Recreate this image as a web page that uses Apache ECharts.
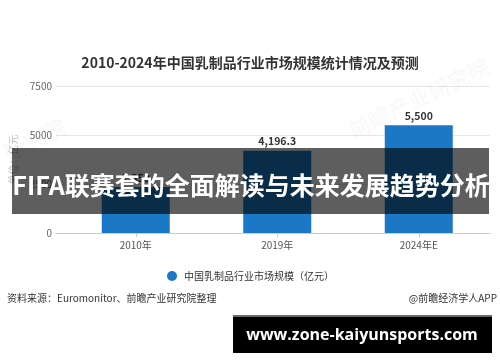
<!DOCTYPE html>
<html>
<head>
<meta charset="utf-8">
<style>
  html, body { margin: 0; padding: 0; background: #ffffff; }
  #chart { width: 500px; height: 362px; }
</style>
<script src="https://cdn.jsdelivr.net/npm/echarts@6/dist/echarts.min.js"></script>
</head>
<body>
<div id="chart"></div>
<script>
// Market size of China's dairy industry (100 million yuan)
const categories = ['2010年', '2019年', '2024年E'];
const marketSize = [2350, 4196.3, 5500];
const yTicks = [0, 2500, 5000, 7500];

const seriesName = '中国乳制品行业市场规模（亿元）';
const titleText = '2010-2024年中国乳制品行业市场规模统计情况及预测';
const bannerText = 'FIFA联赛套的全面解读与未来发展趋势分析';
const sourceText = '资料来源：Euromonitor、前瞻产业研究院整理';
const creditText = '@前瞻经济学人APP';
const siteText = 'www.zone-kaiyunsports.com';

const FONT = '"Noto Sans CJK SC", "Noto Sans", sans-serif';
const BAR_BLUE = '#1a78c6';

const fmt = v => v.toLocaleString('en-US', { maximumFractionDigits: 1 });

const chart = echarts.init(document.getElementById('chart'), null, { renderer: 'canvas' });

const yMin = yTicks[0];
const yMax = yTicks[yTicks.length - 1];
const yStep = yTicks[1] - yTicks[0];

chart.setOption({
  backgroundColor: '#ffffff',
  animation: false,
  textStyle: { fontFamily: FONT },
  title: {
    text: titleText,
    left: 'center',
    top: 51,
    textStyle: { fontFamily: FONT, fontSize: 14, fontWeight: 'bold', color: '#333333' }
  },
  legend: {
    data: [seriesName],
    left: 162,
    top: 266,
    icon: 'circle',
    itemWidth: 10,
    itemHeight: 10,
    itemGap: 6,
    textStyle: { fontFamily: FONT, fontSize: 10, color: '#333333', padding: [0, 0, 0, 2] }
  },
  grid: [
    // frame grid: value scale, gridlines and base line
    { left: 55, right: 10, top: 86, bottom: 129, containLabel: false },
    // bar grid: category band
    { left: 65, right: 10.5, top: 86, bottom: 129, containLabel: false }
  ],
  xAxis: [
    {
      gridIndex: 0,
      type: 'category',
      data: categories,
      axisLine: { show: true, lineStyle: { color: '#cccccc', width: 1 } },
      axisTick: { show: false },
      axisLabel: { show: false },
      splitLine: { show: false }
    },
    {
      gridIndex: 1,
      type: 'category',
      data: categories,
      axisLine: { show: false },
      axisTick: { show: true, alignWithLabel: true, length: 4, lineStyle: { color: '#cccccc' } },
      axisLabel: { show: true, color: '#555555', fontSize: 10, fontFamily: FONT, margin: 7 },
      splitLine: { show: false }
    }
  ],
  yAxis: [
    {
      gridIndex: 0,
      type: 'value',
      min: yMin,
      max: yMax,
      interval: yStep,
      name: '单位：亿元',
      nameLocation: 'middle',
      nameGap: 38,
      nameRotate: 90,
      nameTextStyle: { color: '#c0c0c0', fontSize: 10, fontFamily: FONT },
      axisLine: { show: false },
      axisTick: { show: false },
      axisLabel: { color: '#666666', fontSize: 10, fontFamily: FONT, margin: 4, formatter: v => String(v) },
      splitLine: { show: true, lineStyle: { color: '#e6e6e6', width: 1 } }
    },
    {
      gridIndex: 1,
      type: 'value',
      min: yMin,
      max: yMax,
      interval: yStep,
      show: false,
      splitLine: { show: false }
    }
  ],
  series: [
    {
      name: seriesName,
      type: 'bar',
      xAxisIndex: 1,
      yAxisIndex: 1,
      data: marketSize,
      barWidth: 68,
      itemStyle: { color: BAR_BLUE },
      label: {
        show: true,
        position: 'top',
        distance: 4,
        formatter: p => fmt(p.value),
        color: '#333333',
        fontSize: 10.5,
        fontWeight: 'bold',
        fontFamily: FONT
      }
    }
  ],
  graphic: [
    // faint diagonal watermarks
    {
      type: 'text', left: 345, top: 55, rotation: Math.PI / 7, z: 1, silent: true,
      style: { text: '前瞻产业研究院', fill: 'rgba(0,0,0,0.025)', font: 'bold 22px ' + FONT }
    },
    {
      type: 'text', left: 0, top: 115, rotation: Math.PI / 7, z: 1, silent: true,
      style: { text: '研究院', fill: 'rgba(0,0,0,0.025)', font: 'bold 22px ' + FONT }
    },
    // headline banner
    {
      type: 'rect', z: 100, silent: true,
      shape: { x: 12, y: 148, width: 477, height: 66 },
      style: { fill: 'rgba(0,0,0,0.63)' }
    },
    {
      type: 'text', z: 101, silent: true,
      x: 251, y: 185,
      style: {
        text: bannerText,
        fill: '#ffffff',
        font: 'bold 25px ' + FONT,
        align: 'center',
        verticalAlign: 'middle'
      }
    },
    // source line
    {
      type: 'text', z: 10, silent: true,
      x: 7, y: 298,
      style: { text: sourceText, fill: '#333333', font: '10px ' + FONT, verticalAlign: 'middle' }
    },
    {
      type: 'text', z: 10, silent: true,
      x: 497, y: 298,
      style: { text: creditText, fill: '#333333', font: '10px ' + FONT, align: 'right', verticalAlign: 'middle' }
    },
    // site box
    {
      type: 'rect', z: 100, silent: true,
      shape: { x: 233, y: 315, width: 259, height: 38 },
      style: { fill: '#000000' }
    },
    {
      type: 'rect', z: 100, silent: true,
      shape: { x: 233, y: 315, width: 259, height: 2 },
      style: { fill: '#6a6a6a' }
    },
    {
      type: 'text', z: 101, silent: true,
      x: 362, y: 335,
      style: {
        text: siteText,
        fill: '#ffffff',
        font: 'bold 16px "Open Sans", "Noto Sans", sans-serif',
        align: 'center',
        verticalAlign: 'middle'
      }
    }
  ]
});
</script>
</body>
</html>
